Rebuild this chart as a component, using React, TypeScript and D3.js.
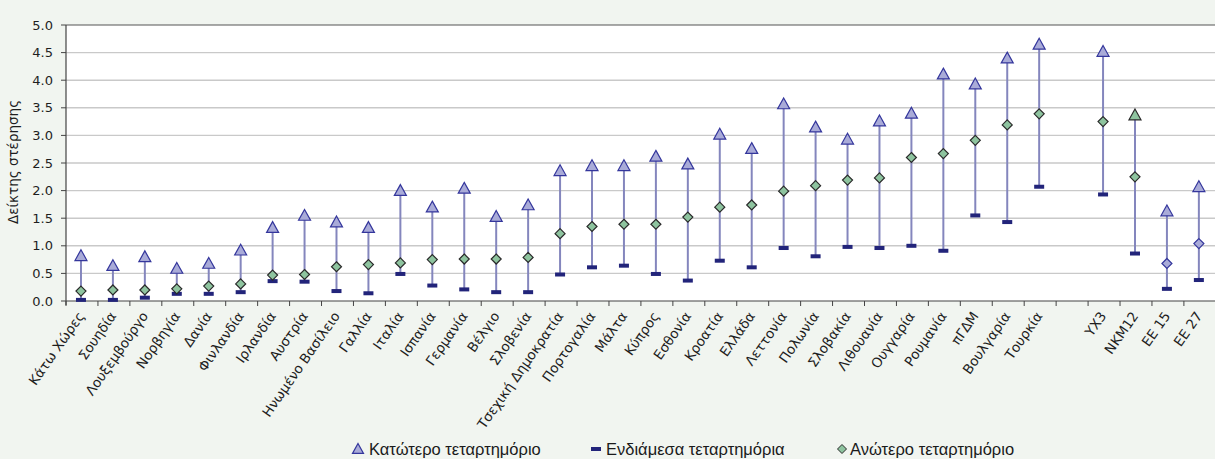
import * as d3 from 'd3';
import React from 'react';

// categories (the empty entry is the gap before the country groups)
const categories = [
    'Κάτω Χώρες', 'Σουηδία', 'Λουξεμβούργο', 'Νορβηγία', 'Δανία', 'Φινλανδία',
    'Ιρλανδία', 'Αυστρία', 'Ηνωμένο Βασίλειο', 'Γαλλία', 'Ιταλία', 'Ισπανία',
    'Γερμανία', 'Βέλγιο', 'Σλοβενία', 'Τσεχική Δημοκρατία', 'Πορτογαλία', 'Μάλτα',
    'Κύπρος', 'Εσθονία', 'Κροατία', 'Ελλάδα', 'Λεττονία', 'Πολωνία', 'Σλοβακία',
    'Λιθουανία', 'Ουγγαρία', 'Ρουμανία', 'πΓΔΜ', 'Βουλγαρία', 'Τουρκία',
    '', 'ΥΧ3', 'ΝΚΜ12', 'ΕΕ 15', 'ΕΕ 27',
];

// triangle series
const lowerQuartile = [
    0.82, 0.64, 0.80, 0.59, 0.68, 0.92, 1.33, 1.55, 1.43, 1.33, 2.00, 1.70,
    2.04, 1.53, 1.74, 2.36, 2.45, 2.45, 2.62, 2.48, 3.02, 2.76, 3.57, 3.15,
    2.93, 3.26, 3.40, 4.11, 3.93, 4.40, 4.65, null, 4.52, 3.37, 1.63, 2.07,
];

// dash series
const middleQuartiles = [
    0.02, 0.02, 0.06, 0.13, 0.13, 0.16, 0.36, 0.35, 0.18, 0.14, 0.49, 0.28,
    0.21, 0.16, 0.16, 0.48, 0.61, 0.64, 0.49, 0.37, 0.73, 0.61, 0.96, 0.81,
    0.98, 0.96, 1.00, 0.91, 1.55, 1.43, 2.07, null, 1.93, 0.86, 0.22, 0.38,
];

// diamond series
const upperQuartile = [
    0.18, 0.20, 0.20, 0.22, 0.27, 0.31, 0.47, 0.48, 0.62, 0.66, 0.69, 0.75,
    0.76, 0.76, 0.79, 1.22, 1.35, 1.39, 1.39, 1.52, 1.70, 1.74, 1.99, 2.09,
    2.19, 2.23, 2.60, 2.67, 2.91, 3.19, 3.39, null, 3.25, 2.25, 0.68, 1.04,
];

const yTicks = [0, 0.5, 1, 1.5, 2, 2.5, 3, 3.5, 4, 4.5, 5];

// points drawn with the other series' fill in the original
const greenTriangles = ['ΝΚΜ12'];
const lavenderDiamonds = ['ΕΕ 15', 'ΕΕ 27'];

const W = 1215;
const H = 459;
const LEFT = 66;
const TOP = 25;
const BOTTOM = 301;

const BG = '#f1f5f0';
const TRI_FILL = '#a9abd8';
const TRI_STROKE = '#34369c';
const DASH_FILL = '#22247a';
const DIA_FILL = '#8ec49f';
const DIA_STROKE = '#2a2a2a';
const LINE = '#8486bd';
const AXIS_FONT = '"DejaVu Sans", "Open Sans", sans-serif';
const LEGEND_FONT = '"Liberation Sans", Arial, sans-serif';

const tri = (cx: number, cy: number, s = 6) =>
    `M${cx},${cy - s} L${cx + s},${cy + s * 0.8} L${cx - s},${cy + s * 0.8} Z`;
const diamond = (cx: number, cy: number, s = 5) =>
    `M${cx},${cy - s} L${cx + s},${cy} L${cx},${cy + s} L${cx - s},${cy} Z`;

export default function App() {
    const keys = categories.map((c, i) => (c === '' ? `__gap${i}` : c));

    const x = d3.scaleBand<string>()
        .domain(keys)
        .range([LEFT, LEFT + keys.length * 31.94])
        .paddingInner(0)
        .paddingOuter(0);

    const y = d3.scaleLinear().domain([0, 5]).range([BOTTOM, TOP]);

    const bw = x.bandwidth();
    const cxOf = (k: string) => (x(k) ?? 0) + bw / 2 - 1;

    const boundaries = d3.range(keys.length + 1).map((i) => LEFT + i * bw);

    return (
        <div style={{ position: 'fixed', left: 0, top: 0, width: W, height: H }}>
            <svg width={W} height={H} style={{ display: 'block' }}>
                <rect x={0} y={0} width={W} height={H} fill={BG} />
                <rect x={LEFT} y={TOP} width={W - LEFT + 2} height={BOTTOM - TOP} fill="#ffffff" />

                {/* grid */}
                {yTicks.map((t) => (
                    <g key={`g${t}`}>
                        {t > 0 && t < 5 && (
                            <line x1={LEFT} x2={W + 2} y1={y(t)} y2={y(t)} stroke="#c9c9c9" strokeWidth={1.4} />
                        )}
                        <line x1={LEFT - 5} x2={LEFT} y1={y(t)} y2={y(t)} stroke="#444" strokeWidth={1} />
                        <text
                            x={LEFT - 13}
                            y={y(t)}
                            dy="0.36em"
                            textAnchor="end"
                            fontFamily={AXIS_FONT}
                            fontSize={13}
                            fill="#1e1e1e"
                        >
                            {t.toFixed(1)}
                        </text>
                    </g>
                ))}

                {/* frame */}
                <line x1={LEFT} x2={W + 2} y1={TOP} y2={TOP} stroke="#555" strokeWidth={1.2} />
                <line x1={LEFT} x2={W + 2} y1={BOTTOM} y2={BOTTOM} stroke="#444" strokeWidth={1.2} />
                <line x1={LEFT} x2={LEFT} y1={TOP} y2={BOTTOM + 4} stroke="#444" strokeWidth={1.2} />
                {boundaries.map((bx, i) => (
                    <line key={`t${i}`} x1={bx} x2={bx} y1={BOTTOM} y2={BOTTOM + 5} stroke="#444" strokeWidth={1} />
                ))}

                {/* y title */}
                <text
                    transform={`translate(18,${(TOP + BOTTOM) / 2 - 1}) rotate(-90)`}
                    textAnchor="middle"
                    fontFamily={AXIS_FONT}
                    fontSize={13.5}
                    fill="#1e1e1e"
                >
                    Δείκτης στέρησης
                </text>

                {/* x labels */}
                {categories.map((c, i) => {
                    if (!c) return null;
                    const cx = cxOf(keys[i]) + 4;
                    return (
                        <text
                            key={`xl${i}`}
                            transform={`translate(${cx},${BOTTOM + 15}) rotate(-55)`}
                            textAnchor="end"
                            fontFamily={AXIS_FONT}
                            fontSize={13.5}
                            fill="#1e1e1e"
                        >
                            {c}
                        </text>
                    );
                })}

                {/* range lines and markers */}
                {keys.map((k, i) => {
                    const hi = lowerQuartile[i];
                    const mid = middleQuartiles[i];
                    const up = upperQuartile[i];
                    if (hi == null || mid == null || up == null) return null;
                    const cx = cxOf(k);
                    const greenTri = greenTriangles.includes(categories[i]);
                    const lavDia = lavenderDiamonds.includes(categories[i]);
                    return (
                        <g key={`p${i}`}>
                            <line x1={cx} x2={cx} y1={y(mid)} y2={y(hi)} stroke={LINE} strokeWidth={2} />
                            <rect x={cx - 5} y={y(mid) - 2} width={10} height={4} fill={DASH_FILL} />
                            <path
                                d={diamond(cx, y(up))}
                                fill={lavDia ? TRI_FILL : DIA_FILL}
                                stroke={lavDia ? TRI_STROKE : DIA_STROKE}
                                strokeWidth={1.2}
                            />
                            <path
                                d={tri(cx, y(hi))}
                                fill={greenTri ? DIA_FILL : TRI_FILL}
                                stroke={greenTri ? DIA_STROKE : TRI_STROKE}
                                strokeWidth={1.2}
                            />
                        </g>
                    );
                })}

                {/* legend */}
                <g fontFamily={LEGEND_FONT} fontSize={16.5} fill="#1a1a1a">
                    <path d={tri(358, 449, 5.5)} fill={TRI_FILL} stroke={TRI_STROKE} strokeWidth={1.2} />
                    <text x={369} y={454.5}>Κατώτερο τεταρτημόριο</text>
                    <rect x={591} y={447} width={10} height={4} fill={DASH_FILL} />
                    <text x={606} y={454.5}>Ενδιάμεσα τεταρτημόρια</text>
                    <path d={diamond(842, 449, 4.5)} fill={DIA_FILL} stroke={DIA_STROKE} strokeWidth={1} />
                    <text x={850} y={454.5}>Ανώτερο τεταρτημόριο</text>
                </g>
            </svg>
        </div>
    );
}
